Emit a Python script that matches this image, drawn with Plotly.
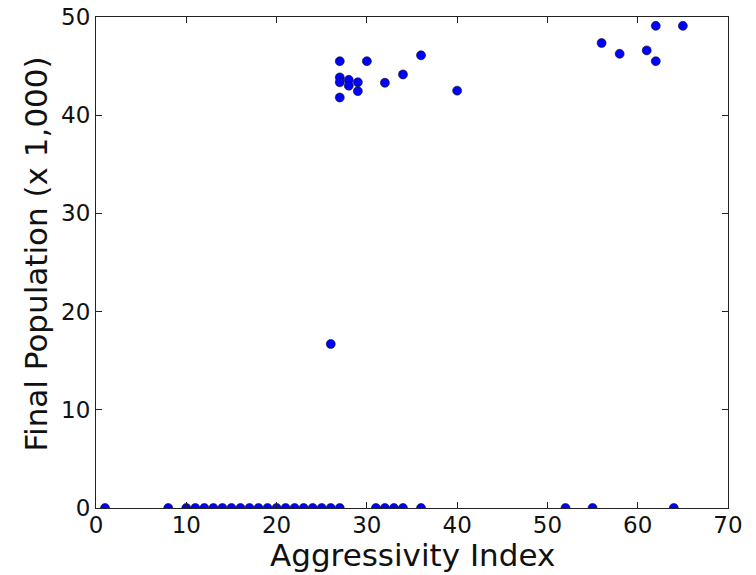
import plotly.graph_objects as go

# Aggressivity index vs. final population (thousands)
aggressivity = [
    1, 8, 10, 11, 12, 13, 14, 15, 16, 17, 18, 19, 20, 21, 22, 23, 24, 25, 26, 27,
    31, 32, 33, 34, 36, 52, 55, 64,
    26,
    27, 30, 36, 27, 27, 28, 28, 29, 29, 27, 32, 34, 40,
    56, 58, 61, 62, 62, 65,
]
final_population = [
    0, 0, 0, 0, 0, 0, 0, 0, 0, 0, 0, 0, 0, 0, 0, 0, 0, 0, 0, 0,
    0, 0, 0, 0, 0, 0, 0, 0,
    16.7,
    45.5, 45.5, 46.1, 43.85, 43.35, 43.6, 43.0, 43.35, 42.45, 41.8, 43.3, 44.15, 42.5,
    47.35, 46.25, 46.6, 45.5, 49.1, 49.1,
]

x_ticks = [0, 10, 20, 30, 40, 50, 60, 70]
y_ticks = [0, 10, 20, 30, 40, 50]

x_title = "Aggressivity Index"
y_title = "Final Population (x 1,000)"

font_family = "DejaVu Sans"
ink = "#111111"

fig = go.Figure(
    go.Scatter(
        x=aggressivity,
        y=final_population,
        mode="markers",
        marker=dict(size=9, color="#0000ff", line=dict(color="#111111", width=0.6)),
        cliponaxis=True,
        hoverinfo="skip",
    )
)

axis_common = dict(
    showgrid=False,
    zeroline=False,
    showline=True,
    linecolor="#222222",
    linewidth=1.2,
    mirror="ticks",
    ticks="inside",
    ticklen=6,
    tickwidth=1.2,
    tickcolor="#222222",
    automargin=False,
    tickfont=dict(family=font_family, size=23, color=ink),
)

fig.update_xaxes(
    range=[0, 70],
    tickvals=x_ticks,
    ticktext=[str(v) for v in x_ticks],
    ticklabelstandoff=-4,
    **axis_common,
)
fig.update_yaxes(
    range=[0, 50],
    tickvals=y_ticks,
    ticktext=[str(v) for v in y_ticks],
    **axis_common,
)

# Axis titles placed as annotations relative to the plot area
fig.add_annotation(
    text=x_title, xref="paper", yref="paper", x=0.5, y=0,
    xanchor="center", yanchor="middle", yshift=-47, showarrow=False,
    font=dict(family=font_family, size=31, color=ink),
)
fig.add_annotation(
    text=y_title, xref="paper", yref="paper", x=0, y=0.5,
    xanchor="center", yanchor="middle", xshift=-61, yshift=8, textangle=-90,
    showarrow=False, font=dict(family=font_family, size=31, color=ink),
)

fig.update_layout(
    width=756,
    height=575,
    margin=dict(l=96, r=28, t=17, b=67),
    paper_bgcolor="white",
    plot_bgcolor="white",
    showlegend=False,
)

fig.write_html("out.html")
